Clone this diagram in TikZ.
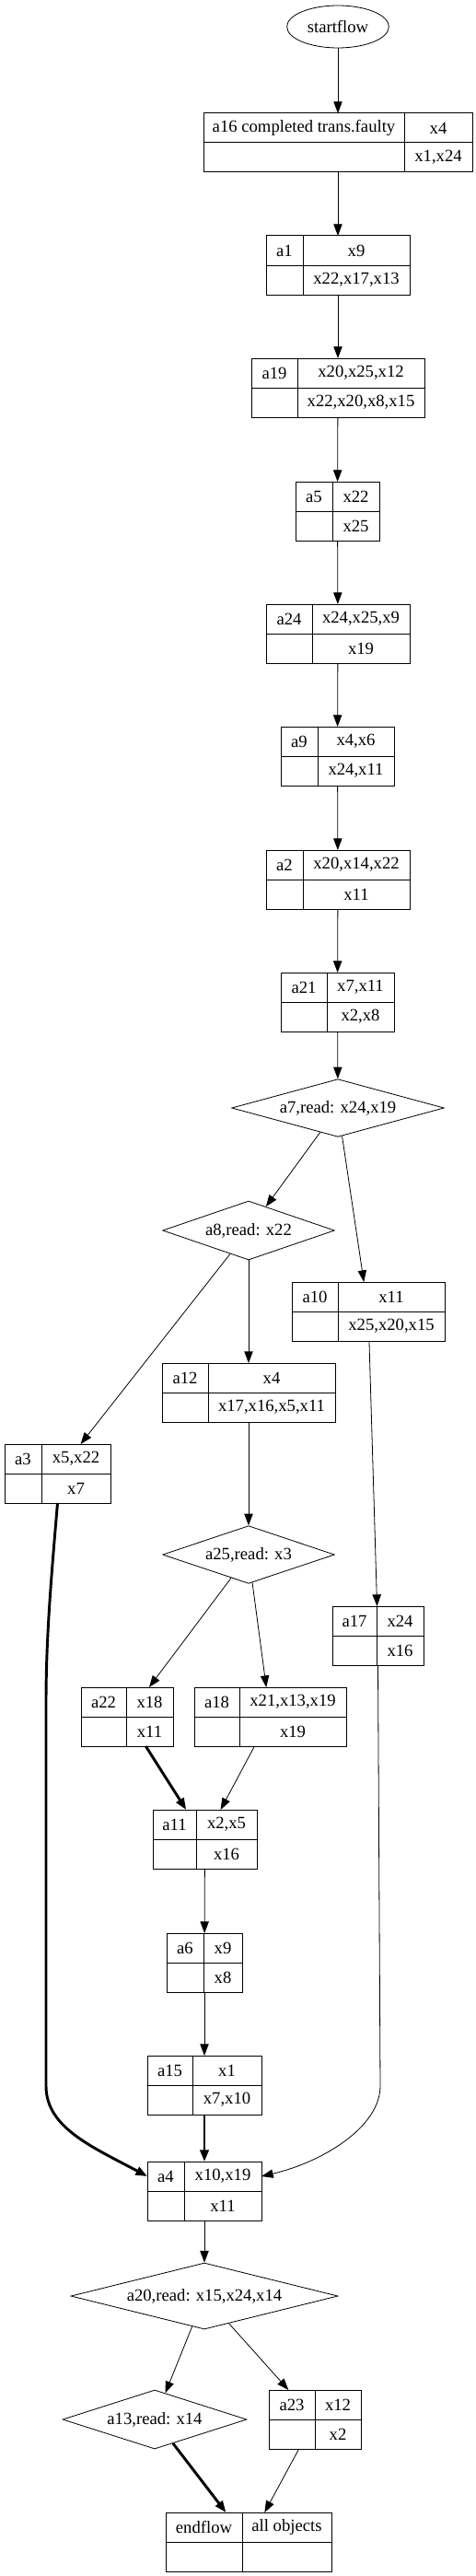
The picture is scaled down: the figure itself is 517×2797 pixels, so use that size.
\documentclass[tikz,border=0pt]{standalone}
\usepackage{fontspec}
\setmainfont{Liberation Serif}
\usetikzlibrary{arrows.meta,shapes.geometric}

% record node: name, left, top, divider, right, label, top field, bottom field
\newcommand{\recnode}[8]{%
  \node[rec, minimum width={(#5-#2)*0.75pt}] (#1) at ({(#2+#5)/2},{#3+32}) {};
  \draw[rule] (#4,#3) -- (#4,#3+64) (#2,#3+32) -- (#5,#3+32);
  \node[field] (#1-n) at ({(#2+#4)/2},{#3+16}) {#6};
  \node[field] (#1-t) at ({(#4+#5)/2},{#3+16}) {#7};
  \node[field] (#1-b) at ({(#4+#5)/2},{#3+48}) {#8};
}

\begin{document}
\begin{tikzpicture}[
    x=0.75pt, y=-0.75pt,
    font=\fontsize{14pt}{16pt}\selectfont,
    >={Triangle[length=9.5pt,width=7pt]},
    rec/.style={draw, rectangle, line width=0.75pt, minimum height=48pt, inner sep=0pt, outer sep=0pt},
    rule/.style={line width=0.75pt},
    field/.style={inner sep=0pt},
    dia/.style={draw, diamond, aspect=3, inner sep=0pt, line width=0.6pt},
    term/.style={draw, ellipse, minimum width=83pt, minimum height=34.5pt, inner sep=0pt, line width=0.6pt},
    flow/.style={->, line width=0.6pt},
    heavy/.style={->, line width=2.2pt}
]
\useasboundingbox (0,0) rectangle (517,2797);

\node[term] (startflow) at (367,29) {startflow};
\recnode{a16}{221}{123}{439}{513}{a16 completed trans.faulty}{x4}{x1,x24}
\recnode{a1}{289}{256}{329}{445}{a1}{x9}{x22,x17,x13}
\recnode{a19}{273}{389}{323}{461}{a19}{x20,x25,x12}{x22,x20,x8,x15}
\recnode{a5}{321}{523}{361}{412}{a5}{x22}{x25}
\recnode{a24}{289}{656}{339}{445}{a24}{x24,x25,x9}{x19}
\recnode{a9}{305}{789}{345}{428}{a9}{x4,x6}{x24,x11}
\recnode{a2}{289}{923}{329}{445}{a2}{x20,x14,x22}{x11}
\recnode{a21}{305}{1056}{355}{428}{a21}{x7,x11}{x2,x8}
\node[dia, minimum width=173pt, minimum height=47pt] (a7) at (367,1203) {a7,read: x24,x19};
\node[dia, minimum width=140pt, minimum height=48pt] (a8) at (270,1336) {a8,read: x22};
\recnode{a10}{317}{1392}{367}{483}{a10}{x11}{x25,x20,x15}
\recnode{a12}{176}{1480}{226}{364}{a12}{x4}{x17,x16,x5,x11}
\recnode{a3}{5}{1568}{45}{120}{a3}{x5,x22}{x7}
\node[dia, minimum width=140pt, minimum height=47pt] (a25) at (270,1688) {a25,read: x3};
\recnode{a17}{361}{1744}{409}{460}{a17}{x24}{x16}
\recnode{a22}{88}{1832}{137}{188}{a22}{x18}{x11}
\recnode{a18}{211}{1832}{260}{376}{a18}{x21,x13,x19}{x19}
\recnode{a11}{166}{1965}{213}{279}{a11}{x2,x5}{x16}
\recnode{a6}{181}{2099}{221}{263}{a6}{x9}{x8}
\recnode{a15}{160}{2232}{209}{284}{a15}{x1}{x7,x10}
\recnode{a4}{160}{2347}{200}{284}{a4}{x10,x19}{x11}
\node[dia, minimum width=217.5pt, minimum height=47pt] (a20) at (222,2493) {a20,read: x15,x24,x14};
\node[dia, minimum width=150pt, minimum height=48pt] (a13) at (168,2627) {a13,read: x14};
\recnode{a23}{292}{2595}{342}{392}{a23}{x12}{x2}
\recnode{endflow}{180}{2728}{263}{360}{endflow}{all objects}{}

\draw[flow] (startflow) -- (a16);
\draw[flow] (a16) -- (a1);
\draw[flow] (a1) -- (a19);
\draw[flow] (a19) -- (a5);
\draw[flow] (a5) -- (a24);
\draw[flow] (a24) -- (a9);
\draw[flow] (a9) -- (a2);
\draw[flow] (a2) -- (a21);
\draw[flow] (a21) -- (a7);
\draw[flow] (a7) -- (a8);
\draw[flow] (a7) -- (a10);
\draw[flow] (a8) -- (a12);
\draw[flow] (a8) -- (a3);
\draw[flow] (a12) -- (a25);
\draw[flow] (a10) -- (a17);
\draw[flow] (a25) -- (a22);
\draw[flow] (a25) -- (a18);
\draw[heavy] (a22) -- (a11);
\draw[flow] (a18) -- (a11);
\draw[flow] (a11) -- (a6);
\draw[flow] (a6) -- (a15);
\draw[heavy] (a15) -- (a4);
\draw[heavy] (a3.south) .. controls (55,1720) and (50,1780) .. (50,1850) -- (50,2265)
    .. controls (50,2310) and (100,2331) .. (a4.west |- a4-n);
\draw[flow] (a17.south) -- (413,2265)
    .. controls (413,2310) and (349,2348) .. (a4.east |- a4-t);
\draw[flow] (a4) -- (a20);
\draw[flow] (a20) -- (a13);
\draw[flow] (a20) -- (a23);
\draw[heavy] (a13) -- (endflow);
\draw[flow] (a23) -- (endflow);
\end{tikzpicture}
\end{document}
